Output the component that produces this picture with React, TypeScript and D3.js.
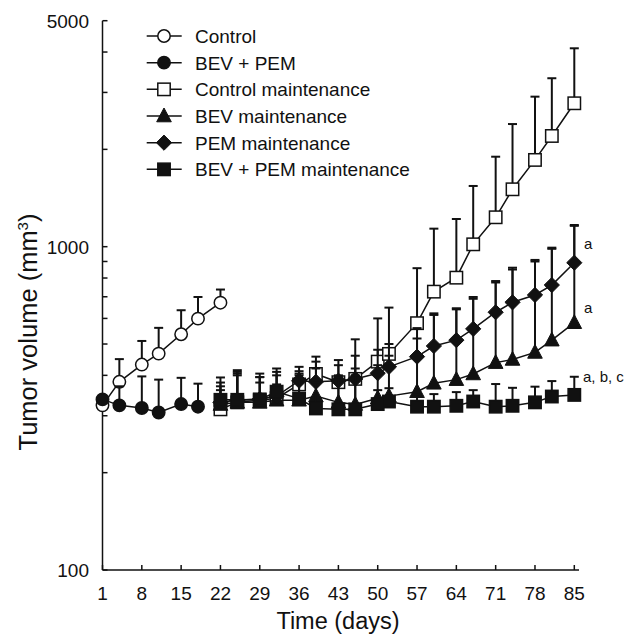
import React from "react";
import * as d3 from "d3";

// days of measurement
const inductionDays = [1, 4, 8, 11, 15, 18, 22];
const bevPemDays = [1, 4, 8, 11, 15, 18];
const maintDays = [22, 25, 29, 32, 36, 39, 43, 46, 50, 52, 57, 60, 64, 67, 71, 74, 78, 81, 85];

// mean tumor volume (mm3) and mean + SD
const controlMean = [323, 382, 432, 467, 536, 599, 671];
const controlTop = [330, 449, 511, 561, 636, 699, 737];
const bevPemMean = [337, 323, 317, 307, 326, 320];
const bevPemTop = [345, 370, 397, 388, 393, 377];
const ctrlMaintMean = [314, 330, 335, 340, 375, 404, 381, 390, 441, 466, 580, 726, 802, 1017, 1233, 1505, 1855, 2200, 2777];
const ctrlMaintTop = [380, 410, 395, 410, 425, 457, 446, 517, 600, 648, 858, 1137, 1218, 1541, 1898, 2395, 2911, 3319, 4108];
const bevMaintMean = [325, 330, 330, 335, 335, 345, 330, 325, 340, 345, 356, 378, 388, 404, 438, 448, 471, 514, 582];
const bevMaintTop = [360, 405, 380, 375, 400, 420, 400, 420, 430, 460, 520, 615, 640, 690, 775, 850, 900, 985, 1160];
const pemMaintMean = [330, 335, 338, 345, 385, 382, 385, 390, 406, 425, 457, 493, 514, 557, 627, 673, 709, 761, 892];
const pemMaintTop = [370, 400, 395, 400, 412, 441, 430, 460, 480, 500, 560, 622, 645, 699, 783, 861, 910, 993, 1167];
const bpMaintMean = [336, 336, 337, 356, 339, 316, 314, 314, 326, 332, 320, 320, 322, 332, 320, 322, 330, 344, 348];
const bpMaintTop = [394, 415, 405, 420, 405, 380, 395, 400, 360, 365, 350, 350, 355, 360, 376, 366, 369, 384, 396];

const xTicks = [1, 8, 15, 22, 29, 36, 43, 50, 57, 64, 71, 78, 85];
const yLabels = [100, 1000, 5000];

const series = [
  { name: "Control", marker: "circle", fill: "#fff", days: inductionDays, mean: controlMean, top: controlTop },
  { name: "BEV + PEM", marker: "circle", fill: "#111", days: bevPemDays, mean: bevPemMean, top: bevPemTop },
  { name: "Control maintenance", marker: "square", fill: "#fff", days: maintDays, mean: ctrlMaintMean, top: ctrlMaintTop },
  { name: "BEV maintenance", marker: "triangle", fill: "#111", days: maintDays, mean: bevMaintMean, top: bevMaintTop },
  { name: "PEM maintenance", marker: "diamond", fill: "#111", days: maintDays, mean: pemMaintMean, top: pemMaintTop },
  { name: "BEV + PEM maintenance", marker: "square", fill: "#111", days: maintDays, mean: bpMaintMean, top: bpMaintTop },
];

const font = "'Liberation Sans', Arial, sans-serif";
const ink = "#111";

const Marker = ({ type, cx, cy, fill }: { type: string; cx: number; cy: number; fill: string }) => {
  const sw = 1.5;
  if (type === "circle") return <circle cx={cx} cy={cy} r={6.2} fill={fill} stroke={ink} strokeWidth={sw} />;
  if (type === "square") return <rect x={cx - 6.2} y={cy - 6.2} width={12.4} height={12.4} fill={fill} stroke={ink} strokeWidth={sw} />;
  if (type === "triangle")
    return <path d={`M${cx},${cy - 8}L${cx + 7.3},${cy + 5.8}L${cx - 7.3},${cy + 5.8}Z`} fill={fill} stroke={ink} strokeWidth={1} />;
  return <path d={`M${cx},${cy - 7.6}L${cx + 7.6},${cy}L${cx},${cy + 7.6}L${cx - 7.6},${cy}Z`} fill={fill} stroke={ink} strokeWidth={1} />;
};

export default function App() {
  const x = d3.scaleLinear().domain([1, 85]).range([102.5, 574.3]);
  const y = d3.scaleLog().domain([100, 5000]).range([570, 20.7]);
  const yTicks = [...d3.range(100, 1000, 100), ...d3.range(1000, 5001, 1000)];
  const line = d3.line<[number, number]>().x((d) => x(d[0])).y((d) => y(d[1]));

  return (
    <svg width={628} height={636} style={{ position: "absolute", left: 0, top: 0, background: "#fff" }} fontFamily={font}>
      {/* axes */}
      <line x1={x(1)} x2={579} y1={570} y2={570} stroke={ink} strokeWidth={1.5} />
      <line x1={x(1)} x2={x(1)} y1={570} y2={y(5000)} stroke={ink} strokeWidth={1.5} />
      {xTicks.map((t) => (
        <g key={t}>
          <line x1={x(t)} x2={x(t)} y1={570} y2={565} stroke={ink} strokeWidth={1.5} />
          <text x={x(t)} y={600} textAnchor="middle" fontSize={19} fill={ink}>{t}</text>
        </g>
      ))}
      {yTicks.map((t) => (
        <line key={t} x1={x(1)} x2={x(1) + 5} y1={y(t)} y2={y(t)} stroke={ink} strokeWidth={1.5} />
      ))}
      {yLabels.map((t) => (
        <text key={t} x={89} y={y(t) + 7} textAnchor="end" fontSize={19} fill={ink}>{t}</text>
      ))}
      <text x={338} y={629} textAnchor="middle" fontSize={23.5} fill={ink}>Time (days)</text>
      <text transform="translate(37,332) rotate(-90)" textAnchor="middle" fontSize={25.5} fill={ink}>
        Tumor volume (mm<tspan fontSize={15} dy={-9}>3</tspan><tspan dy={9}>)</tspan>
      </text>

      {/* series */}
      {series.map((s) => {
        const pts = s.days.map((d, i) => [d, s.mean[i]] as [number, number]);
        return (
          <g key={s.name}>
            {s.days.map((d, i) => (
              <g key={d} stroke={ink} strokeWidth={2}>
                <line x1={x(d)} x2={x(d)} y1={y(s.mean[i])} y2={y(s.top[i])} />
                <line x1={x(d) - 4.5} x2={x(d) + 4.5} y1={y(s.top[i])} y2={y(s.top[i])} />
              </g>
            ))}
            <path d={line(pts) || ""} fill="none" stroke={ink} strokeWidth={1.5} />
            {pts.map((p) => (
              <Marker key={p[0]} type={s.marker} cx={x(p[0])} cy={y(p[1])} fill={s.fill} />
            ))}
          </g>
        );
      })}

      {/* significance letters */}
      <text x={584} y={249} fontSize={15} fill={ink}>a</text>
      <text x={584} y={313} fontSize={15} fill={ink}>a</text>
      <text x={583} y={382} fontSize={15} fill={ink}>a, b, c</text>

      {/* legend */}
      {series.map((s, i) => {
        const ly = 36 + i * 26.67;
        return (
          <g key={s.name}>
            <line x1={146.7} x2={181.7} y1={ly} y2={ly} stroke={ink} strokeWidth={1.5} />
            <Marker type={s.marker} cx={164} cy={ly} fill={s.fill} />
            <text x={195} y={ly + 7} fontSize={19} fill={ink}>{s.name}</text>
          </g>
        );
      })}
    </svg>
  );
}
